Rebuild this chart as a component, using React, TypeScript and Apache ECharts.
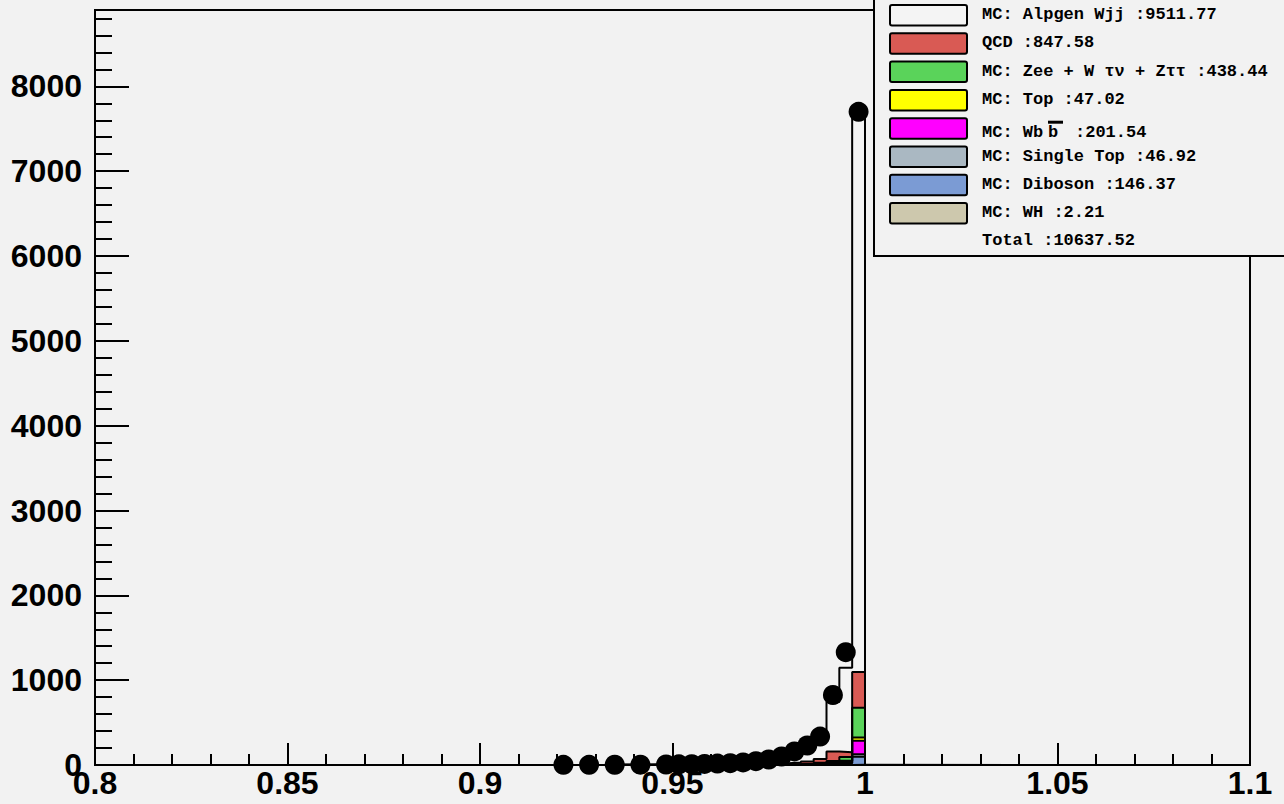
import React, { useEffect, useRef } from "react";
import * as echarts from "echarts";

// Histogram binning (90 bins between 0.8 and 1.1)
const X_MIN = 0.8;
const X_MAX = 1.1;
const N_BINS = 90;
const FIRST_BIN = 40; // index of first bin listed in the arrays below (bins 40..59)

// Stacked MC components, bins 40..59 (bottom of stack first)
const wh = [0, 0, 0, 0, 0, 0, 0, 0, 0, 0, 0, 0, 0, 0, 0, 0, 0, 0, 0, 2];
const diboson = [0, 0, 0, 0, 0, 0, 0, 0, 0, 0, 1, 1, 1, 2, 3, 5, 8, 12, 20, 95];
const singleTop = [0, 0, 0, 0, 0, 0, 0, 0, 0, 0, 0, 0, 0, 1, 1, 2, 3, 4, 6, 30];
const wbb = [0, 0, 0, 0, 0, 0, 0, 0, 0, 0, 0, 0, 1, 1, 2, 3, 5, 10, 20, 160];
const top = [0, 0, 0, 0, 0, 0, 0, 0, 0, 0, 0, 0, 0, 0, 0, 0, 1, 2, 4, 38];
const zee = [0, 0, 0, 0, 0, 0, 0, 0, 0, 0, 1, 1, 1, 2, 3, 6, 10, 20, 45, 350];
const qcd = [3, 3, 3, 4, 4, 5, 6, 6, 7, 8, 8, 10, 12, 15, 20, 25, 45, 110, 55, 420];
const alpgen = [2, 3, 3, 4, 5, 6, 8, 10, 13, 17, 22, 35, 55, 85, 125, 185, 265, 585, 995, 6605];

const stackComponents = [wh, diboson, singleTop, wbb, top, zee, qcd, alpgen];
const stackColors = ["#cdc8ad", "#7b9bd4", "#aab8c2", "#ff00ff", "#ffff00", "#5ad35a", "#d95a54", "#f4f4f4"];

// Data points (bin index, entries)
const dataBins = [36, 38, 40, 42, 44, 45, 46, 47, 48, 49, 50, 51, 52, 53, 54, 55, 56, 57, 58, 59];
const dataValues = [2, 2, 3, 4, 6, 8, 10, 13, 17, 22, 30, 45, 65, 100, 160, 230, 335, 825, 1330, 7700];

// Legend (top to bottom)
const legendLabels = [
  "MC: Alpgen Wjj :9511.77",
  "QCD :847.58",
  "MC: Zee + W τν + Zττ :438.44",
  "MC: Top :47.02",
  "MC: Wb",
  "MC: Single Top :46.92",
  "MC: Diboson :146.37",
  "MC: WH :2.21",
];
const legendColors = ["#f4f4f4", "#d95a54", "#5ad35a", "#ffff00", "#ff00ff", "#aab8c2", "#7b9bd4", "#cdc8ad"];
const wbbBar = "b";
const wbbTail = ":201.54";
const totalLabel = "Total :10637.52";

const Y_MAX = 8900;

const edge = (i: number) => X_MIN + (i * (X_MAX - X_MIN)) / N_BINS;

export default function App() {
  const ref = useRef<HTMLDivElement>(null);
  useEffect(() => {
    if (!ref.current) return;
    const chart = echarts.init(ref.current, undefined, { renderer: "svg" });

    const series: any[] = [];
    // cumulative levels, drawn from the top of the stack downwards
    for (let k = stackComponents.length - 1; k >= 0; k--) {
      const cum = stackComponents[0].map((_, i) => {
        let s = 0;
        for (let j = 0; j <= k; j++) s += stackComponents[j][i];
        return s;
      });
      const pts: number[][] = [[X_MIN, 0]];
      cum.forEach((v, i) => pts.push([edge(FIRST_BIN + i), v]));
      pts.push([edge(FIRST_BIN + cum.length), 0]);
      pts.push([X_MAX, 0]);
      series.push({
        type: "line",
        step: "end",
        data: pts,
        symbol: "none",
        showSymbol: false,
        lineStyle: { color: "#000", width: 2 },
        areaStyle: { color: stackColors[k], opacity: 1 },
        z: 2,
        silent: true,
      });
    }
    series.push({
      type: "scatter",
      data: dataBins.map((b, i) => [edge(b) + (X_MAX - X_MIN) / N_BINS / 2, dataValues[i]]),
      symbol: "circle",
      symbolSize: 20,
      itemStyle: { color: "#000", opacity: 1 },
      z: 5,
    });

    const labelFont = { fontFamily: "Liberation Sans", fontWeight: "bold" as const, fontSize: 32, color: "#000" };
    const monoFont = 'bold 17px "Liberation Mono"';

    const graphic: any[] = [
      {
        type: "rect",
        shape: { x: 874, y: -5, width: 430, height: 261 },
        style: { fill: "#f2f2f2", stroke: "#000", lineWidth: 2 },
        z: 100,
      },
    ];
    legendLabels.forEach((lab, r) => {
      const boxTop = 5 + r * 28.3;
      graphic.push({
        type: "rect",
        shape: { x: 890, y: boxTop, width: 77, height: 20.5, r: 2 },
        style: { fill: legendColors[r], stroke: "#000", lineWidth: 2 },
        z: 101,
      });
      const ty = r === 4 ? boxTop + 14 : boxTop + 9.5;
      graphic.push({
        type: "text",
        x: 982,
        y: ty,
        style: { text: lab, font: monoFont, fill: "#000", align: "left", verticalAlign: "middle" },
        z: 101,
      });
      if (r === 4) {
        graphic.push({
          type: "text",
          x: 1048,
          y: ty,
          style: { text: wbbBar, font: monoFont, fill: "#000", align: "left", verticalAlign: "middle" },
          z: 101,
        });
        graphic.push({
          type: "rect",
          shape: { x: 1048, y: boxTop + 2.5, width: 15, height: 3 },
          style: { fill: "#000" },
          z: 101,
        });
        graphic.push({
          type: "text",
          x: 1075,
          y: ty,
          style: { text: wbbTail, font: monoFont, fill: "#000", align: "left", verticalAlign: "middle" },
          z: 101,
        });
      }
    });
    graphic.push({
      type: "text",
      x: 982,
      y: 240,
      style: { text: totalLabel, font: monoFont, fill: "#000", align: "left", verticalAlign: "middle" },
      z: 101,
    });

    chart.setOption({
      animation: false,
      backgroundColor: "#f2f2f2",
      grid: {
        left: 95,
        right: 34,
        top: 10,
        bottom: 39,
        show: true,
        borderColor: "#000",
        borderWidth: 2,
        backgroundColor: "transparent",
      },
      xAxis: [
        {
          type: "value",
          min: X_MIN,
          max: X_MAX,
          interval: 0.05,
          position: "bottom",
          axisLine: { show: true, onZero: false, lineStyle: { color: "#000", width: 2 } },
          axisTick: { show: true, inside: true, length: 22, lineStyle: { color: "#000", width: 2 } },
          splitLine: { show: false },
          axisLabel: {
            ...labelFont,
            margin: 2,
            formatter: (v: number) => String(Math.round(v * 100) / 100),
          },
        },
        {
          type: "value",
          min: X_MIN,
          max: X_MAX,
          interval: 0.01,
          position: "bottom",
          axisLine: { show: false, onZero: false },
          axisTick: { show: true, inside: true, length: 11, lineStyle: { color: "#000", width: 2 } },
          splitLine: { show: false },
          axisLabel: { show: false },
        },
      ],
      yAxis: [
        {
          type: "value",
          min: 0,
          max: Y_MAX,
          interval: 1000,
          position: "left",
          axisLine: { show: true, lineStyle: { color: "#000", width: 2 } },
          axisTick: { show: true, inside: true, length: 34, lineStyle: { color: "#000", width: 2 } },
          splitLine: { show: false },
          axisLabel: {
            ...labelFont,
            margin: 13,
            showMaxLabel: false,
            formatter: (v: number) => (v % 1000 === 0 ? String(v) : ""),
          },
        },
        {
          type: "value",
          min: 0,
          max: Y_MAX,
          interval: 200,
          position: "left",
          axisLine: { show: false },
          axisTick: { show: true, inside: true, length: 17, lineStyle: { color: "#000", width: 2 } },
          splitLine: { show: false },
          axisLabel: { show: false },
        },
      ],
      series,
      graphic,
    });
    return () => chart.dispose();
  }, []);
  return (
    <div
      ref={ref}
      style={{ position: "absolute", left: 0, top: 0, width: 1284, height: 804, background: "#f2f2f2" }}
    />
  );
}
